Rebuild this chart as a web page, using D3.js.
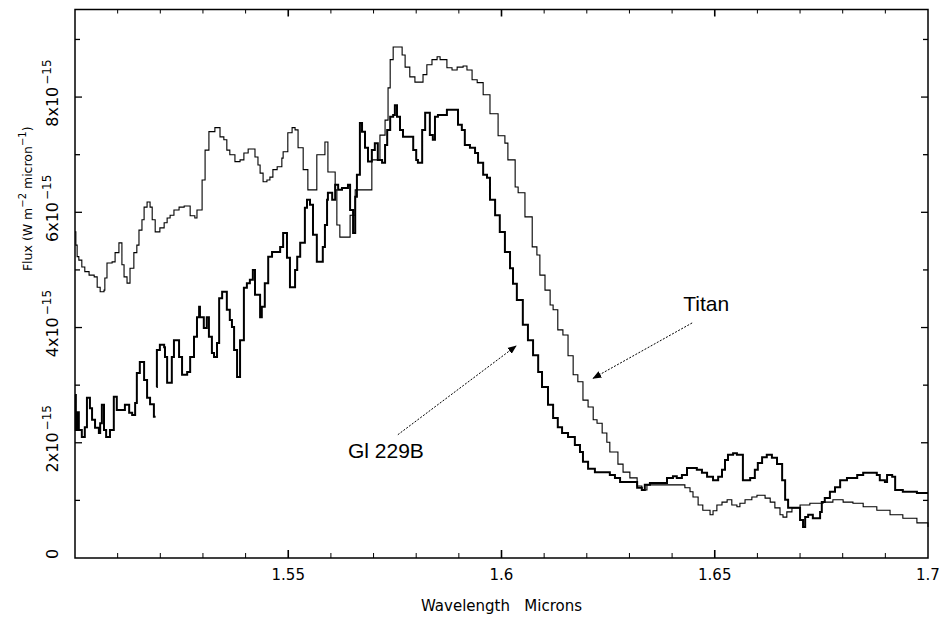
<!DOCTYPE html>
<html>
<head>
<meta charset="utf-8">
<script src="https://cdn.jsdelivr.net/npm/d3@7"></script>
<style>
  body { margin: 0; background: #fff; }
  svg { display: block; }
  text { font-family: "DejaVu Sans", "Liberation Sans", sans-serif; fill: #000; }
</style>
</head>
<body>
<svg id="chart"></svg>
<script>
// Spectra: wavelength in microns, flux in units of 1e-15 W m^-2 micron^-1
// null marks the break between the two Gl 229B pieces
const gl229bWave = [
  1.5000, 1.5002, 1.5005, 1.5009, 1.5016, 1.5023, 1.5028, 1.5035, 1.5040, 1.5047,
  1.5056, 1.5059, 1.5063, 1.5068, 1.5073, 1.5082, 1.5091, 1.5098, 1.5117, 1.5127,
  1.5134, 1.5141, 1.5145, 1.5152, 1.5162, 1.5169, 1.5176, 1.5185, 1.5189, 1.5190,
  1.5191, 1.5192, 1.5199, 1.5209, 1.5211, 1.5216, 1.5227, 1.5232, 1.5244, 1.5251,
  1.5263, 1.5270, 1.5279, 1.5286, 1.5291, 1.5293, 1.5302, 1.5309, 1.5314, 1.5321,
  1.5326, 1.5333, 1.5338, 1.5345, 1.5356, 1.5363, 1.5368, 1.5373, 1.5380, 1.5387,
  1.5396, 1.5403, 1.5410, 1.5417, 1.5422, 1.5434, 1.5438, 1.5445, 1.5453, 1.5462,
  1.5481, 1.5488, 1.5497, 1.5504, 1.5516, 1.5521, 1.5528, 1.5539, 1.5544, 1.5551,
  1.5558, 1.5567, 1.5581, 1.5586, 1.5591, 1.5593, 1.5603, 1.5610, 1.5617, 1.5626,
  1.5640, 1.5645, 1.5652, 1.5657, 1.5661, 1.5668, 1.5673, 1.5680, 1.5687, 1.5696,
  1.5703, 1.5710, 1.5720, 1.5727, 1.5732, 1.5739, 1.5746, 1.5750, 1.5755, 1.5762,
  1.5769, 1.5793, 1.5800, 1.5804, 1.5814, 1.5821, 1.5832, 1.5839, 1.5844, 1.5851,
  1.5872, 1.5898, 1.5907, 1.5914, 1.5926, 1.5938, 1.5945, 1.5957, 1.5966, 1.5973,
  1.5985, 1.5996, 1.6008, 1.6020, 1.6027, 1.6036, 1.6050, 1.6062, 1.6074, 1.6086,
  1.6095, 1.6109, 1.6121, 1.6132, 1.6142, 1.6156, 1.6172, 1.6184, 1.6191, 1.6203,
  1.6219, 1.6254, 1.6266, 1.6278, 1.6318, 1.6329, 1.6336, 1.6348, 1.6388, 1.6402,
  1.6411, 1.6423, 1.6435, 1.6458, 1.6470, 1.6482, 1.6496, 1.6508, 1.6517, 1.6524,
  1.6531, 1.6543, 1.6552, 1.6566, 1.6583, 1.6594, 1.6601, 1.6611, 1.6622, 1.6634,
  1.6646, 1.6658, 1.6665, 1.6672, 1.6700, 1.6707, 1.6712, 1.6719, 1.6730, 1.6747,
  1.6751, 1.6758, 1.6770, 1.6782, 1.6794, 1.6810, 1.6834, 1.6848, 1.6880, 1.6887,
  1.6899, 1.6904, 1.6916, 1.6923, 1.6941, 1.6974, 1.7000
];
const gl229bFlux = [
  2.83, 2.22, 2.53, 2.22, 2.10, 2.27, 2.78, 2.60, 2.40, 2.26,
  2.17, 2.34, 2.66, 2.22, 2.10, 2.22, 2.80, 2.57, 2.66, 2.52,
  2.48, 2.69, 3.21, 3.40, 3.09, 2.78, 2.67, 2.45, 2.45, null,
  2.97, 3.61, 3.70, 3.66, 3.49, 3.04, 3.49, 3.78, 3.49, 3.18,
  3.23, 3.49, 3.84, 4.18, 4.36, 4.18, 3.99, 4.18, 3.84, 3.56,
  3.49, 3.73, 4.51, 4.62, 4.31, 4.13, 4.01, 3.61, 3.14, 3.78,
  4.69, 4.77, 4.83, 5.00, 4.57, 4.18, 4.36, 4.77, 5.23, 5.31,
  5.40, 5.64, 5.21, 4.70, 5.00, 5.23, 5.47, 6.08, 6.22, 6.13,
  5.61, 5.14, 5.40, 5.78, 6.22, 6.34, 6.22, 6.48, 6.39, 6.42,
  6.48, 6.04, 5.64, 6.27, 6.65, 7.55, 7.40, 7.12, 6.88, 7.08,
  7.20, 6.91, 6.86, 7.17, 7.43, 7.66, 7.69, 7.86, 7.66, 7.43,
  7.31, 7.08, 6.91, 6.86, 7.43, 7.73, 7.34, 7.26, 7.66, 7.69,
  7.78, 7.52, 7.43, 7.17, 7.12, 7.03, 6.86, 6.65, 6.60, 6.22,
  5.95, 5.66, 5.31, 5.03, 4.76, 4.48, 4.05, 3.78, 3.52, 3.23,
  2.97, 2.66, 2.43, 2.27, 2.17, 2.10, 1.96, 1.84, 1.67, 1.55,
  1.49, 1.44, 1.39, 1.32, 1.22, 1.18, 1.27, 1.30, 1.39, 1.42,
  1.39, 1.44, 1.56, 1.53, 1.48, 1.41, 1.35, 1.41, 1.53, 1.70,
  1.79, 1.82, 1.79, 1.35, 1.39, 1.53, 1.65, 1.75, 1.79, 1.74,
  1.63, 1.35, 1.01, 0.87, 0.66, 0.54, 0.71, 0.75, 0.69, 0.80,
  0.97, 1.04, 1.15, 1.23, 1.35, 1.39, 1.44, 1.48, 1.44, 1.35,
  1.32, 1.44, 1.41, 1.18, 1.15, 1.13, 1.13
];

const titanWave = [
  1.5000, 1.5002, 1.5005, 1.5009, 1.5016, 1.5023, 1.5033, 1.5045, 1.5052, 1.5059,
  1.5068, 1.5070, 1.5075, 1.5087, 1.5094, 1.5103, 1.5110, 1.5115, 1.5122, 1.5129,
  1.5138, 1.5145, 1.5150, 1.5157, 1.5162, 1.5169, 1.5176, 1.5181, 1.5188, 1.5199,
  1.5209, 1.5216, 1.5223, 1.5232, 1.5244, 1.5256, 1.5270, 1.5281, 1.5286, 1.5298,
  1.5305, 1.5314, 1.5328, 1.5340, 1.5349, 1.5356, 1.5363, 1.5375, 1.5387, 1.5396,
  1.5406, 1.5422, 1.5429, 1.5434, 1.5441, 1.5450, 1.5457, 1.5464, 1.5474, 1.5485,
  1.5488, 1.5499, 1.5509, 1.5516, 1.5523, 1.5535, 1.5546, 1.5567, 1.5586, 1.5593,
  1.5610, 1.5614, 1.5621, 1.5645, 1.5657, 1.5696, 1.5715, 1.5727, 1.5734, 1.5739,
  1.5746, 1.5767, 1.5774, 1.5785, 1.5797, 1.5816, 1.5825, 1.5837, 1.5849, 1.5856,
  1.5872, 1.5884, 1.5896, 1.5910, 1.5919, 1.5931, 1.5943, 1.5957, 1.5973, 1.5992,
  1.6008, 1.6015, 1.6032, 1.6039, 1.6055, 1.6072, 1.6083, 1.6090, 1.6102, 1.6114,
  1.6121, 1.6132, 1.6144, 1.6156, 1.6168, 1.6179, 1.6191, 1.6203, 1.6215, 1.6224,
  1.6236, 1.6247, 1.6254, 1.6273, 1.6285, 1.6301, 1.6318, 1.6329, 1.6341, 1.6430,
  1.6442, 1.6449, 1.6461, 1.6472, 1.6489, 1.6496, 1.6505, 1.6517, 1.6529, 1.6540,
  1.6552, 1.6559, 1.6571, 1.6587, 1.6599, 1.6618, 1.6630, 1.6641, 1.6653, 1.6660,
  1.6669, 1.6681, 1.6700, 1.6723, 1.6754, 1.6777, 1.6801, 1.6824, 1.6848, 1.6880,
  1.6911, 1.6941, 1.6974, 1.7000
];
const titanFlux = [
  5.66, 5.43, 5.23, 5.17, 5.05, 4.97, 4.91, 4.88, 4.70, 4.62,
  4.65, 4.86, 5.12, 5.14, 5.30, 5.47, 5.09, 4.88, 4.77, 5.03,
  5.30, 5.43, 5.69, 5.87, 6.09, 6.18, 6.09, 5.87, 5.66, 5.73,
  5.82, 5.90, 5.95, 6.04, 6.09, 6.11, 5.94, 5.90, 6.04, 6.56,
  7.08, 7.40, 7.47, 7.31, 7.26, 7.08, 7.00, 6.88, 6.91, 7.03,
  7.10, 6.96, 6.82, 6.68, 6.53, 6.56, 6.61, 6.74, 6.79, 6.94,
  7.05, 7.38, 7.47, 7.43, 7.12, 6.74, 6.39, 7.00, 7.22, 6.70,
  6.39, 5.78, 5.57, 5.95, 6.39, 6.91, 7.34, 7.60, 8.16, 8.65,
  8.87, 8.73, 8.52, 8.35, 8.26, 8.39, 8.56, 8.65, 8.70, 8.65,
  8.51, 8.47, 8.52, 8.54, 8.47, 8.30, 8.25, 8.04, 7.71, 7.33,
  7.20, 6.91, 6.44, 6.34, 5.92, 5.40, 5.26, 4.91, 4.65, 4.39,
  4.31, 3.96, 3.87, 3.51, 3.18, 3.06, 2.74, 2.62, 2.40, 2.34,
  2.17, 2.01, 1.84, 1.63, 1.49, 1.39, 1.25, 1.18, 1.27, 1.22,
  1.15, 1.06, 0.92, 0.83, 0.75, 0.82, 0.92, 0.97, 1.01, 0.92,
  0.89, 0.95, 1.01, 1.06, 1.09, 1.04, 0.97, 0.87, 0.75, 0.71,
  0.80, 0.87, 0.92, 0.95, 0.97, 1.01, 0.97, 0.95, 0.89, 0.83,
  0.75, 0.69, 0.61, 0.54
];

const xLabelTicks = [1.55, 1.6, 1.65, 1.7];
const xLabelText = ["1.55", "1.6", "1.65", "1.7"];
const yLabelTicks = [0, 2, 4, 6, 8];
const yLabelMant = ["0", "2x10", "4x10", "6x10", "8x10"];
const yLabelExp = ["", "\u221215", "\u221215", "\u221215", "\u221215"];

// annotations: [label, text position, arrow tail, arrow head] in data units
const annoLabels = ["Gl 229B", "Titan"];
const annoText = [[1.5640, 1.74], [1.6426, 4.29]];
const annoTail = [[1.5757, 2.14], [1.6447, 4.08]];
const annoHead = [[1.6034, 3.68], [1.6215, 3.12]];

const width = 941, height = 622;
const margin = { top: 9.5, right: 13, bottom: 64, left: 75 };
const innerW = width - margin.left - margin.right;
const innerH = height - margin.top - margin.bottom;

const svg = d3.select("#chart").attr("width", width).attr("height", height);
const g = svg.append("g").attr("transform", `translate(${margin.left},${margin.top})`);

const x = d3.scaleLinear().domain([1.5, 1.7]).range([0, innerW]);
const y = d3.scaleLinear().domain([0, 9.52]).range([innerH, 0]);

// Ticks (inward, on all four sides)
const xMinor = d3.range(1.51, 1.6999, 0.01);
const isMajorX = (v) => Math.abs(v * 20 - Math.round(v * 20)) < 1e-6;
g.append("g").selectAll("line.xb").data(xMinor).enter().append("line")
  .attr("x1", (d) => x(d)).attr("x2", (d) => x(d))
  .attr("y1", innerH).attr("y2", (d) => innerH - (isMajorX(d) ? 8 : 5))
  .attr("stroke", "#000").attr("stroke-width", (d) => (isMajorX(d) ? 1.6 : 1));
g.append("g").selectAll("line.xt").data(xMinor).enter().append("line")
  .attr("x1", (d) => x(d)).attr("x2", (d) => x(d))
  .attr("y1", 0).attr("y2", (d) => (isMajorX(d) ? 7 : 4))
  .attr("stroke", "#000").attr("stroke-width", (d) => (isMajorX(d) ? 1.6 : 1));

const yMinor = d3.range(1, 9.5, 1);
g.append("g").selectAll("line.yl").data(yMinor).enter().append("line")
  .attr("x1", 0).attr("x2", (d) => (d % 2 === 0 ? 7 : 5))
  .attr("y1", (d) => y(d)).attr("y2", (d) => y(d))
  .attr("stroke", "#000").attr("stroke-width", 1.3);
g.append("g").selectAll("line.yr").data(yMinor).enter().append("line")
  .attr("x1", innerW).attr("x2", (d) => innerW - (d % 2 === 0 ? 7 : 5))
  .attr("y1", (d) => y(d)).attr("y2", (d) => y(d))
  .attr("stroke", "#000").attr("stroke-width", 1.3);

// Frame
g.append("rect").attr("width", innerW).attr("height", innerH)
  .attr("fill", "none").attr("stroke", "#000").attr("stroke-width", 1.5);

// X tick labels
g.append("g").selectAll("text").data(xLabelTicks).enter().append("text")
  .attr("x", (d) => x(d)).attr("y", innerH + 22)
  .attr("text-anchor", "middle").style("font-size", "15px")
  .text((d, i) => xLabelText[i]);

// Y tick labels, rotated
const yl = g.append("g").selectAll("text").data(yLabelTicks).enter().append("text")
  .attr("transform", (d) => `translate(-17,${y(d) - 4}) rotate(-90)`)
  .attr("text-anchor", "middle").style("font-size", "16px");
yl.append("tspan").text((d, i) => yLabelMant[i]);
yl.append("tspan").attr("dx", 2).attr("dy", -7).style("font-size", "12px").text((d, i) => yLabelExp[i]);

// Axis titles
g.append("text").attr("x", innerW / 2).attr("y", innerH + 53)
  .attr("text-anchor", "middle").style("font-size", "15px").style("white-space", "pre")
  .text("Wavelength   Microns");

const yt = g.append("text")
  .attr("transform", `translate(-43,${innerH / 2 - 85}) rotate(-90)`)
  .attr("text-anchor", "middle").style("font-size", "12.5px");
yt.append("tspan").text("Flux (W m");
yt.append("tspan").attr("dy", -6).style("font-size", "10px").text("\u22122");
yt.append("tspan").attr("dy", 6).text(" micron");
yt.append("tspan").attr("dy", -6).style("font-size", "10px").text("\u22121");
yt.append("tspan").attr("dy", 6).text(")");

// Spectra
const toPoints = (w, f) => w.map((d, i) => ({ w: d, f: f[i] }));
const line = d3.line()
  .defined((d) => d.f !== null)
  .x((d) => x(d.w))
  .y((d) => y(d.f))
  .curve(d3.curveStepAfter);

g.append("path").datum(toPoints(titanWave, titanFlux))
  .attr("d", line).attr("fill", "none").attr("stroke", "#000").attr("stroke-width", 1.1);
g.append("path").datum(toPoints(gl229bWave, gl229bFlux))
  .attr("d", line).attr("fill", "none").attr("stroke", "#000").attr("stroke-width", 2);

// Annotations
svg.append("defs").append("marker")
  .attr("id", "arrow").attr("viewBox", "0 0 10 10").attr("refX", 9).attr("refY", 5)
  .attr("markerWidth", 9).attr("markerHeight", 9).attr("markerUnits", "userSpaceOnUse")
  .attr("orient", "auto")
  .append("path").attr("d", "M0,1L10,5L0,9Z").attr("fill", "#000");

annoLabels.forEach((lab, i) => {
  g.append("line")
    .attr("x1", x(annoTail[i][0])).attr("y1", y(annoTail[i][1]))
    .attr("x2", x(annoHead[i][0])).attr("y2", y(annoHead[i][1]))
    .attr("stroke", "#000").attr("stroke-width", 1).attr("stroke-dasharray", "2,1.5")
    .attr("marker-end", "url(#arrow)");
  g.append("text").attr("x", x(annoText[i][0])).attr("y", y(annoText[i][1]))
    .style("font-family", "'Liberation Sans', Arial, sans-serif").style("font-size", "21px")
    .text(lab);
});
</script>
</body>
</html>
